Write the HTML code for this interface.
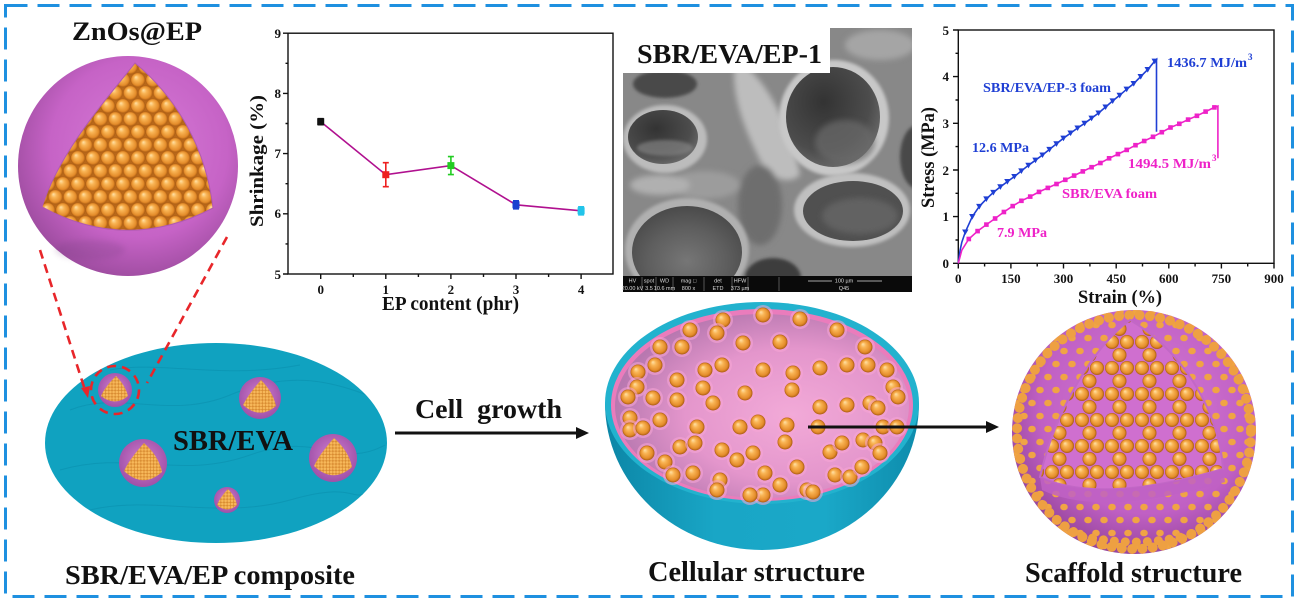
<!DOCTYPE html>
<html><head><meta charset="utf-8"><style>
html,body{margin:0;padding:0;background:#fff;}
svg{display:block;}
</style></head><body>
<svg width="1298" height="602" viewBox="0 0 1298 602" xmlns="http://www.w3.org/2000/svg" font-family="'Liberation Serif', serif" font-weight="bold">
<defs>
  <radialGradient id="ballg" cx="0.5" cy="0.5" r="0.5" fx="0.35" fy="0.3">
    <stop offset="0" stop-color="#ffe2a8"/>
    <stop offset="0.35" stop-color="#f9b454"/>
    <stop offset="0.8" stop-color="#e48c2a"/>
    <stop offset="1" stop-color="#a85a12"/>
  </radialGradient>
  <pattern id="balls15" patternUnits="userSpaceOnUse" width="15" height="26" x="3" y="2">
    <rect width="15" height="26" fill="#b8681a"/>
    <circle cx="0" cy="0" r="7.4" fill="url(#ballg)"/>
    <circle cx="15" cy="0" r="7.4" fill="url(#ballg)"/>
    <circle cx="7.5" cy="13" r="7.4" fill="url(#ballg)"/>
    <circle cx="0" cy="26" r="7.4" fill="url(#ballg)"/>
    <circle cx="15" cy="26" r="7.4" fill="url(#ballg)"/>
  </pattern>
  <pattern id="ballsSparse" patternUnits="userSpaceOnUse" width="30" height="26" x="2" y="4">
    <rect width="30" height="26" fill="#cf6fcf"/>
    <circle cx="0" cy="0" r="7" fill="url(#ballg)"/>
    <circle cx="15" cy="0" r="7" fill="url(#ballg)"/>
    <circle cx="30" cy="0" r="7" fill="url(#ballg)"/>
    <circle cx="7.5" cy="13" r="7" fill="url(#ballg)"/>
    <circle cx="0" cy="26" r="7" fill="url(#ballg)"/>
    <circle cx="15" cy="26" r="7" fill="url(#ballg)"/>
    <circle cx="30" cy="26" r="7" fill="url(#ballg)"/>
  </pattern>
  <pattern id="shellDots" patternUnits="userSpaceOnUse" width="16" height="26">
    <ellipse cx="0" cy="0" rx="3.8" ry="3.3" fill="#f0a444"/>
    <ellipse cx="16" cy="0" rx="3.8" ry="3.3" fill="#f0a444"/>
    <ellipse cx="8" cy="13" rx="3.8" ry="3.3" fill="#f0a444"/>
    <ellipse cx="0" cy="26" rx="3.8" ry="3.3" fill="#f0a444"/>
    <ellipse cx="16" cy="26" rx="3.8" ry="3.3" fill="#f0a444"/>
  </pattern>
  <pattern id="fine" patternUnits="userSpaceOnUse" width="3.2" height="3.2">
    <rect width="3.2" height="3.2" fill="#d88a30"/>
    <circle cx="1.6" cy="1.6" r="1.35" fill="#f7b85a"/>
  </pattern>
  <radialGradient id="sphg" cx="0.55" cy="0.42" r="0.62">
    <stop offset="0" stop-color="#d77cd7"/>
    <stop offset="0.65" stop-color="#c663c6"/>
    <stop offset="1" stop-color="#9a4a9c"/>
  </radialGradient>
  <radialGradient id="sphg2" cx="0.55" cy="0.4" r="0.62">
    <stop offset="0" stop-color="#d47ad4"/>
    <stop offset="0.7" stop-color="#c060c4"/>
    <stop offset="1" stop-color="#94449a"/>
  </radialGradient>
  <radialGradient id="partg" cx="0.5" cy="0.45" r="0.55">
    <stop offset="0" stop-color="#d080d0"/>
    <stop offset="1" stop-color="#a050a8"/>
  </radialGradient>
  <linearGradient id="bowlg" x1="0" y1="0" x2="1" y2="0">
    <stop offset="0" stop-color="#0c86a6"/>
    <stop offset="0.35" stop-color="#19a6c6"/>
    <stop offset="0.7" stop-color="#1aa8c8"/>
    <stop offset="1" stop-color="#0e8cac"/>
  </linearGradient>
  <radialGradient id="innerg" cx="0.6" cy="0.55" r="0.6">
    <stop offset="0" stop-color="#f2aad8"/>
    <stop offset="0.6" stop-color="#e496cc"/>
    <stop offset="1" stop-color="#b878b0"/>
  </radialGradient>
  <radialGradient id="poreg" cx="0.4" cy="0.35" r="0.7">
    <stop offset="0" stop-color="#333"/>
    <stop offset="0.7" stop-color="#4c4c4c"/>
    <stop offset="1" stop-color="#6c6c6c"/>
  </radialGradient>
  <radialGradient id="poreg2" cx="0.5" cy="0.6" r="0.6">
    <stop offset="0" stop-color="#767676"/>
    <stop offset="0.6" stop-color="#5e5e5e"/>
    <stop offset="1" stop-color="#4a4a4a"/>
  </radialGradient>
  <filter id="b3" x="-30%" y="-30%" width="160%" height="160%"><feGaussianBlur stdDeviation="3"/></filter>
  <filter id="b1" x="-30%" y="-30%" width="160%" height="160%"><feGaussianBlur stdDeviation="1.5"/></filter>
  <clipPath id="semclip"><rect x="623" y="28" width="289" height="249"/></clipPath>
  <clipPath id="scafclip"><circle cx="1134" cy="432" r="122"/></clipPath>
  <clipPath id="ellclip"><ellipse cx="216" cy="443" rx="171" ry="100"/></clipPath>
  <marker id="mTri" viewBox="-5 -5 10 10" markerWidth="8" markerHeight="8" markerUnits="userSpaceOnUse" refX="0" refY="0">
    <path d="M-4,-3.2 L4,-3.2 L0,3.8 Z" fill="#1f3fd4"/>
  </marker>
  <marker id="mSq" viewBox="-5 -5 10 10" markerWidth="7" markerHeight="7" markerUnits="userSpaceOnUse" refX="0" refY="0">
    <rect x="-3.3" y="-3.3" width="6.6" height="6.6" fill="#ee22c8"/>
  </marker>
  <g id="cb"><circle r="10" fill="#f7a6d6" opacity="0.55"/><circle r="7.5" fill="url(#ballg)"/></g>
</defs>

<rect width="1298" height="602" fill="#fff"/>

<!-- dashed border -->
<rect x="5.5" y="5.5" width="1287" height="591" fill="none" stroke="#1e90e0" stroke-width="3" stroke-dasharray="22 10"/>

<!-- ===== ZnOs@EP sphere ===== -->
<text x="72" y="40" font-size="26" textLength="130" lengthAdjust="spacingAndGlyphs" fill="#111">ZnOs@EP</text>
<circle cx="128" cy="166" r="110" fill="url(#sphg)"/>
<ellipse cx="90" cy="250" rx="35" ry="10" fill="#6e3a78" opacity="0.18" filter="url(#b3)"/>
<path d="M135,63 C110,95 60,150 42,207 Q127,253 213,208 C205,140 170,92 135,63 Z" fill="url(#balls15)"/>
<path d="M135,63 C110,95 60,150 42,207 Q127,253 213,208 C205,140 170,92 135,63 Z" fill="none" stroke="#b05ab0" stroke-width="1"/>

<!-- ===== Blue ellipse composite ===== -->
<ellipse cx="216" cy="443" rx="171" ry="100" fill="#10a2c0"/>
<g clip-path="url(#ellclip)">
<g stroke="#0a8aa8" stroke-width="1" fill="none" opacity="0.45">
  <path d="M70,410 C120,390 170,420 230,395 S330,380 380,400"/>
  <path d="M60,470 C130,450 180,480 250,455 S340,470 385,445"/>
  <path d="M90,510 C150,495 220,520 290,500 S350,505 370,490"/>
  <path d="M110,370 C160,360 220,380 300,365"/>
</g>
</g>
<!-- particles -->
<circle cx="115" cy="390" r="17" fill="url(#partg)"/>
<path d="M116,376 C110,382 104,389 101,396 Q115,407 128,396 C126,388 121,381 116,376 Z" fill="url(#fine)"/>
<circle cx="260" cy="398" r="21" fill="url(#partg)"/>
<path d="M261,380 C254,388 247,397 243,405 Q260,420 276,406 C274,396 268,387 261,380 Z" fill="url(#fine)"/>
<circle cx="143" cy="463" r="24" fill="url(#partg)"/>
<path d="M144,443 C136,452 128,462 124,471 Q143,489 162,472 C160,461 153,451 144,443 Z" fill="url(#fine)"/>
<circle cx="333" cy="458" r="24" fill="url(#partg)"/>
<path d="M334,438 C326,447 318,457 314,466 Q333,484 352,467 C350,456 343,446 334,438 Z" fill="url(#fine)"/>
<circle cx="227" cy="500" r="13" fill="url(#partg)"/>
<path d="M228,489 C223,494 219,500 217,505 Q227,514 237,505 C236,499 232,493 228,489 Z" fill="url(#fine)"/>

<!-- red dashed zoom lines -->
<g stroke="#e8262a" stroke-width="2.6" stroke-dasharray="9 6" fill="none">
  <line x1="40" y1="250" x2="85" y2="390"/>
  <line x1="227" y1="237" x2="147" y2="383"/>
  <circle cx="115" cy="390" r="24"/>
</g>
<path d="M81,388 L90,386 L88,398 Z" fill="#e8262a"/>

<text x="173" y="450" font-size="28" textLength="120" lengthAdjust="spacingAndGlyphs" fill="#111">SBR/EVA</text>
<text x="65" y="584" font-size="27" textLength="290" lengthAdjust="spacingAndGlyphs" fill="#111">SBR/EVA/EP composite</text>

<!-- Cell growth arrow -->
<text x="415" y="418" font-size="27" textLength="147" lengthAdjust="spacingAndGlyphs" fill="#111">Cell&#160; growth</text>
<line x1="395" y1="433" x2="578" y2="433" stroke="#111" stroke-width="3"/>
<path d="M576,427 L589,433 L576,439 Z" fill="#111"/>

<!-- ===== Shrinkage plot ===== -->
<g stroke="#111" stroke-width="1.4" fill="none">
  <rect x="288" y="33.2" width="325" height="240.8"/>
  <path d="M283,33.2H288M283,93.4H288M283,153.6H288M283,213.8H288M283,274H288"/>
  <path d="M285.5,63.3H288M285.5,123.5H288M285.5,183.7H288M285.5,243.9H288"/>
  <path d="M320.7,274V279M385.8,274V279M450.9,274V279M516,274V279M581.1,274V279"/>
  <path d="M353.3,274V277M418.4,274V277M483.5,274V277M548.6,274V277"/>
</g>
<g font-size="13" fill="#111" text-anchor="end">
  <text x="281" y="38">9</text>
  <text x="281" y="98">8</text>
  <text x="281" y="158">7</text>
  <text x="281" y="218">6</text>
  <text x="281" y="279">5</text>
</g>
<g font-size="13" fill="#111" text-anchor="middle">
  <text x="320.7" y="294">0</text>
  <text x="385.8" y="294">1</text>
  <text x="450.9" y="294">2</text>
  <text x="516" y="294">3</text>
  <text x="581.1" y="294">4</text>
</g>
<text x="382" y="310" font-size="20" textLength="137" lengthAdjust="spacingAndGlyphs" fill="#111">EP content (phr)</text>
<text transform="translate(263,161) rotate(-90)" text-anchor="middle" font-size="19" textLength="132" lengthAdjust="spacingAndGlyphs" fill="#111">Shrinkage (%)</text>
<polyline points="320.7,121.7 385.8,174.7 450.9,165.6 516,204.8 581.1,210.8" fill="none" stroke="#b0108f" stroke-width="1.6"/>
<g stroke-width="1.6">
  <path d="M320.7,118.7V124.7M317.7,118.7H323.7M317.7,124.7H323.7" stroke="#111"/>
  <rect x="317.2" y="118.2" width="7" height="7" fill="#111"/>
  <path d="M385.8,162.7V186.7M382.8,162.7H388.8M382.8,186.7H388.8" stroke="#ee2020"/>
  <rect x="382.3" y="171.2" width="7" height="7" fill="#ee2020"/>
  <path d="M450.9,156.6V174.6M447.9,156.6H453.9M447.9,174.6H453.9" stroke="#22cc22"/>
  <rect x="447.4" y="162.1" width="7" height="7" fill="#22cc22"/>
  <path d="M516,200.8V208.8M513,200.8H519M513,208.8H519" stroke="#1a40d0"/>
  <rect x="512.5" y="201.3" width="7" height="7" fill="#1a40d0"/>
  <path d="M581.1,206.8V214.8M578.1,206.8H584.1M578.1,214.8H584.1" stroke="#22c4ea"/>
  <rect x="577.6" y="207.3" width="7" height="7" fill="#22c4ea"/>
</g>

<!-- ===== SEM image ===== -->
<g clip-path="url(#semclip)">
  <rect x="623" y="28" width="289" height="249" fill="#888"/>
  <g filter="url(#b3)">
    <path d="M735,60 C760,70 790,120 800,175 C790,185 770,180 760,160 C745,130 730,95 735,60 Z" fill="#bdbdbd"/>
    <ellipse cx="705" cy="185" rx="35" ry="14" fill="#9c9c9c"/>
    <ellipse cx="760" cy="205" rx="22" ry="40" fill="#6e6e6e"/>
    <ellipse cx="880" cy="45" rx="35" ry="15" fill="#a5a5a5"/>
    <ellipse cx="660" cy="185" rx="30" ry="10" fill="#b0b0b0"/>
  </g>
  <ellipse cx="665" cy="84" rx="32" ry="14" fill="#4a4a4a" filter="url(#b1)"/>
  <ellipse cx="665" cy="139" rx="42" ry="34" fill="#bcbcbc" filter="url(#b1)"/>
  <ellipse cx="663" cy="137" rx="35" ry="27" fill="url(#poreg)"/>
  <ellipse cx="665" cy="148" rx="28" ry="8" fill="#8a8a8a" opacity="0.6" filter="url(#b1)"/>
  <ellipse cx="834" cy="118" rx="55" ry="58" fill="#c8c8c8" filter="url(#b1)"/>
  <ellipse cx="833" cy="117" rx="47" ry="50" fill="url(#poreg)"/>
  <ellipse cx="845" cy="142" rx="30" ry="22" fill="#6a6a6a" opacity="0.7" filter="url(#b3)"/>
  <ellipse cx="687" cy="250" rx="62" ry="52" fill="#b0b0b0" filter="url(#b1)"/>
  <ellipse cx="687" cy="252" rx="55" ry="46" fill="url(#poreg2)"/>
  <ellipse cx="852" cy="210" rx="58" ry="37" fill="#c0c0c0" filter="url(#b1)"/>
  <ellipse cx="853" cy="211" rx="50" ry="30" fill="#505050"/>
  <ellipse cx="860" cy="216" rx="38" ry="18" fill="#626262" filter="url(#b3)"/>
  <ellipse cx="918" cy="157" rx="18" ry="32" fill="#4a4a4a" filter="url(#b1)"/>
  <ellipse cx="773" cy="278" rx="28" ry="20" fill="#3c3c3c" filter="url(#b1)"/>
</g>
<rect x="623" y="28" width="207" height="45" fill="#fff"/>
<text x="637" y="63" font-size="27" textLength="185" lengthAdjust="spacingAndGlyphs" fill="#111">SBR/EVA/EP-1</text>
<rect x="623" y="276" width="289" height="16" fill="#0a0a0a"/>
<g stroke="#888" stroke-width="0.6">
  <line x1="642" y1="277" x2="642" y2="291"/><line x1="656" y1="277" x2="656" y2="291"/>
  <line x1="673" y1="277" x2="673" y2="291"/><line x1="704" y1="277" x2="704" y2="291"/>
  <line x1="732" y1="277" x2="732" y2="291"/><line x1="748" y1="277" x2="748" y2="291"/>
  <line x1="779" y1="277" x2="779" y2="291"/>
</g>
<g font-family="'Liberation Sans', sans-serif" font-weight="normal" font-size="5.5" fill="#ddd" text-anchor="middle">
  <text x="632.5" y="282.5">HV</text><text x="649" y="282.5">spot</text><text x="664.5" y="282.5">WD</text>
  <text x="688.5" y="282.5">mag □</text><text x="718" y="282.5">det</text><text x="740" y="282.5">HFW</text>
  <text x="632.5" y="290">20.00 kV</text><text x="649" y="290">3.5</text>
  <text x="664.5" y="290">10.6 mm</text><text x="688.5" y="290">800 x</text><text x="718" y="290">ETD</text><text x="740" y="290">373 µm</text>
  <text x="844" y="282.5">100 µm</text><text x="844" y="290">Q45</text>
</g>
<g stroke="#ddd" stroke-width="0.8"><line x1="808" y1="281" x2="832" y2="281"/><line x1="857" y1="281" x2="882" y2="281"/></g>

<!-- ===== Stress-strain plot ===== -->
<g stroke="#111" stroke-width="1.4" fill="none">
  <rect x="958.3" y="30" width="315.7" height="233.3"/>
  <path d="M953,263.3H958.3M953,216.6H958.3M953,170H958.3M953,123.3H958.3M953,76.6H958.3M953,30H958.3"/>
  <path d="M955.5,240H958.3M955.5,193.3H958.3M955.5,146.6H958.3M955.5,100H958.3M955.5,53.3H958.3"/>
  <path d="M958.3,263.3V268.5M1010.9,263.3V268.5M1063.5,263.3V268.5M1116.2,263.3V268.5M1168.8,263.3V268.5M1221.4,263.3V268.5M1274,263.3V268.5"/>
  <path d="M984.6,263.3V266.5M1037.2,263.3V266.5M1089.9,263.3V266.5M1142.5,263.3V266.5M1195.1,263.3V266.5M1247.7,263.3V266.5"/>
</g>
<g font-size="13" fill="#111" text-anchor="end">
  <text x="949" y="268">0</text>
  <text x="949" y="221">1</text>
  <text x="949" y="175">2</text>
  <text x="949" y="128">3</text>
  <text x="949" y="81">4</text>
  <text x="949" y="35">5</text>
</g>
<g font-size="13" fill="#111" text-anchor="middle">
  <text x="958.3" y="283">0</text>
  <text x="1010.9" y="283">150</text>
  <text x="1063.5" y="283">300</text>
  <text x="1116.2" y="283">450</text>
  <text x="1168.8" y="283">600</text>
  <text x="1221.4" y="283">750</text>
  <text x="1274" y="283">900</text>
</g>
<text x="1078" y="303" font-size="19" textLength="84" lengthAdjust="spacingAndGlyphs" fill="#111">Strain (%)</text>
<text transform="translate(934,157.5) rotate(-90)" text-anchor="middle" font-size="19" textLength="101" lengthAdjust="spacingAndGlyphs" fill="#111">Stress (MPa)</text>

<polyline fill="none" stroke="#1f3fd4" stroke-width="1.6" points="958.3,263.3 960.1,250.2 961.8,242.3 965.3,232.0 972.3,216.6 979.3,206.4 986.4,198.9 993.4,192.4 1000.4,186.8 1007.4,181.6 1014.4,176.5 1021.4,170.9 1028.5,165.3 1035.5,160.2 1042.5,155.0 1049.5,149.4 1056.5,143.8 1063.5,138.2 1070.6,133.1 1077.6,128.0 1084.6,123.3 1091.6,118.2 1098.6,113.0 1105.6,107.0 1112.7,100.9 1119.7,95.3 1126.7,89.2 1133.7,83.6 1140.7,76.6 1147.7,69.6 1154.7,61.2 1156.5,59.4 1156.5,131.7"/>
<polyline fill="none" stroke="none" marker-start="url(#mTri)" marker-mid="url(#mTri)" marker-end="url(#mTri)" points="965.3,232.0 972.3,216.6 979.3,206.4 986.4,198.9 993.4,192.4 1000.4,186.8 1007.4,181.6 1014.4,176.5 1021.4,170.9 1028.5,165.3 1035.5,160.2 1042.5,155.0 1049.5,149.4 1056.5,143.8 1063.5,138.2 1070.6,133.1 1077.6,128.0 1084.6,123.3 1091.6,118.2 1098.6,113.0 1105.6,107.0 1112.7,100.9 1119.7,95.3 1126.7,89.2 1133.7,83.6 1140.7,76.6 1147.7,69.6 1154.7,61.2"/>
<polyline fill="none" stroke="#ee22c8" stroke-width="1.6" points="958.3,263.3 961.8,250.2 968.8,239.0 977.6,231.1 986.4,224.6 995.1,218.5 1003.9,212.0 1012.7,206.1 1021.4,200.8 1030.2,196.6 1039.0,191.9 1047.8,187.9 1056.5,184.0 1065.3,179.8 1074.1,175.6 1082.8,171.4 1091.6,167.2 1100.4,163.0 1109.1,158.3 1117.9,154.1 1126.7,149.9 1135.5,145.2 1144.2,141.0 1153.0,136.8 1161.8,132.2 1170.5,127.5 1179.3,123.8 1188.1,119.6 1196.9,115.8 1205.6,111.6 1214.4,107.4 1217.9,106.0 1217.9,158.3"/>
<polyline fill="none" stroke="none" marker-start="url(#mSq)" marker-mid="url(#mSq)" marker-end="url(#mSq)" points="968.8,239.0 977.6,231.1 986.4,224.6 995.1,218.5 1003.9,212.0 1012.7,206.1 1021.4,200.8 1030.2,196.6 1039.0,191.9 1047.8,187.9 1056.5,184.0 1065.3,179.8 1074.1,175.6 1082.8,171.4 1091.6,167.2 1100.4,163.0 1109.1,158.3 1117.9,154.1 1126.7,149.9 1135.5,145.2 1144.2,141.0 1153.0,136.8 1161.8,132.2 1170.5,127.5 1179.3,123.8 1188.1,119.6 1196.9,115.8 1205.6,111.6 1214.4,107.4"/>
<g font-size="13.5" fill="#1f3fd4">
  <text x="1167" y="67" textLength="80" lengthAdjust="spacingAndGlyphs">1436.7 MJ/m</text>
  <text x="1248" y="60" font-size="9">3</text>
  <text x="983" y="92" textLength="128" lengthAdjust="spacingAndGlyphs">SBR/EVA/EP-3 foam</text>
  <text x="972" y="152" textLength="57" lengthAdjust="spacingAndGlyphs">12.6 MPa</text>
</g>
<g font-size="13.5" fill="#ee22c8">
  <text x="1128" y="168" textLength="83" lengthAdjust="spacingAndGlyphs">1494.5 MJ/m</text>
  <text x="1212" y="161" font-size="9">3</text>
  <text x="1062" y="198" textLength="95" lengthAdjust="spacingAndGlyphs">SBR/EVA foam</text>
  <text x="997" y="237" textLength="50" lengthAdjust="spacingAndGlyphs">7.9 MPa</text>
</g>

<!-- ===== Cellular structure (cup) ===== -->
<path d="M605,403 A157,147 0 0 0 919,403 Z" fill="url(#bowlg)"/>
<ellipse cx="762" cy="403" rx="157" ry="101" fill="#22b2ce"/>
<ellipse cx="762" cy="405" rx="151" ry="96" fill="#ea7cbc"/>
<ellipse cx="762" cy="406" rx="147" ry="92" fill="url(#innerg)"/>
<g>
<use href="#cb" x="723" y="320"/><use href="#cb" x="763" y="315"/><use href="#cb" x="800" y="319"/><use href="#cb" x="837" y="330"/>
<use href="#cb" x="690" y="330"/><use href="#cb" x="660" y="347"/><use href="#cb" x="682" y="347"/><use href="#cb" x="717" y="333"/>
<use href="#cb" x="743" y="343"/><use href="#cb" x="780" y="342"/><use href="#cb" x="865" y="347"/><use href="#cb" x="868" y="365"/>
<use href="#cb" x="887" y="370"/><use href="#cb" x="893" y="387"/><use href="#cb" x="898" y="397"/><use href="#cb" x="847" y="365"/>
<use href="#cb" x="820" y="368"/><use href="#cb" x="793" y="373"/><use href="#cb" x="763" y="370"/><use href="#cb" x="722" y="365"/>
<use href="#cb" x="705" y="370"/><use href="#cb" x="655" y="365"/><use href="#cb" x="638" y="372"/><use href="#cb" x="637" y="387"/>
<use href="#cb" x="628" y="397"/><use href="#cb" x="653" y="398"/><use href="#cb" x="677" y="380"/><use href="#cb" x="677" y="400"/>
<use href="#cb" x="703" y="388"/><use href="#cb" x="713" y="403"/><use href="#cb" x="745" y="393"/><use href="#cb" x="792" y="390"/>
<use href="#cb" x="820" y="407"/><use href="#cb" x="847" y="405"/><use href="#cb" x="870" y="403"/><use href="#cb" x="878" y="408"/>
<use href="#cb" x="630" y="418"/><use href="#cb" x="630" y="430"/><use href="#cb" x="643" y="428"/><use href="#cb" x="660" y="420"/>
<use href="#cb" x="697" y="427"/><use href="#cb" x="740" y="427"/><use href="#cb" x="758" y="422"/><use href="#cb" x="787" y="425"/>
<use href="#cb" x="818" y="427"/><use href="#cb" x="883" y="427"/><use href="#cb" x="897" y="427"/><use href="#cb" x="863" y="440"/>
<use href="#cb" x="875" y="443"/><use href="#cb" x="680" y="447"/><use href="#cb" x="695" y="443"/><use href="#cb" x="722" y="450"/>
<use href="#cb" x="737" y="460"/><use href="#cb" x="753" y="453"/><use href="#cb" x="785" y="442"/><use href="#cb" x="830" y="452"/>
<use href="#cb" x="842" y="443"/><use href="#cb" x="880" y="453"/><use href="#cb" x="647" y="453"/><use href="#cb" x="665" y="462"/>
<use href="#cb" x="673" y="475"/><use href="#cb" x="693" y="473"/><use href="#cb" x="720" y="480"/><use href="#cb" x="717" y="490"/>
<use href="#cb" x="765" y="473"/><use href="#cb" x="780" y="485"/><use href="#cb" x="797" y="467"/><use href="#cb" x="835" y="475"/>
<use href="#cb" x="850" y="477"/><use href="#cb" x="862" y="467"/><use href="#cb" x="763" y="495"/><use href="#cb" x="750" y="495"/>
<use href="#cb" x="807" y="490"/><use href="#cb" x="813" y="492"/>
</g>
<line x1="808" y1="427" x2="988" y2="427" stroke="#111" stroke-width="3"/>
<path d="M986,421 L999,427 L986,433 Z" fill="#111"/>
<text x="648" y="581" font-size="28" textLength="217" lengthAdjust="spacingAndGlyphs" fill="#111">Cellular structure</text>

<!-- ===== Scaffold sphere ===== -->
<circle cx="1134" cy="432" r="122" fill="url(#sphg2)"/>
<g clip-path="url(#scafclip)">
  <rect x="1010" y="308" width="250" height="250" fill="url(#shellDots)"/>
  <path d="M1040,522 Q1134,562 1228,522" fill="none" stroke="#eea042" stroke-width="9" stroke-dasharray="0.01 11" stroke-linecap="round"/>
</g>
<circle cx="1134" cy="432" r="117" fill="none" stroke="#eea042" stroke-width="10" stroke-dasharray="0.01 10.3" stroke-linecap="round"/>
<path d="M1130,320 C1095,345 1055,410 1040,477 Q1100,505 1223,469 C1220,415 1185,352 1130,320 Z" fill="url(#ballsSparse)"/>
<path d="M1130,320 C1095,345 1055,410 1040,477 Q1100,505 1223,469 C1220,415 1185,352 1130,320 Z" fill="none" stroke="#c268c6" stroke-width="2"/>
<path d="M1040,477 Q1100,505 1223,469 L1225,482 Q1100,518 1042,490 Z" fill="#c062c4" opacity="0.85"/>
<text x="1025" y="582" font-size="28" textLength="217" lengthAdjust="spacingAndGlyphs" fill="#111">Scaffold structure</text>

</svg>
</body></html>
